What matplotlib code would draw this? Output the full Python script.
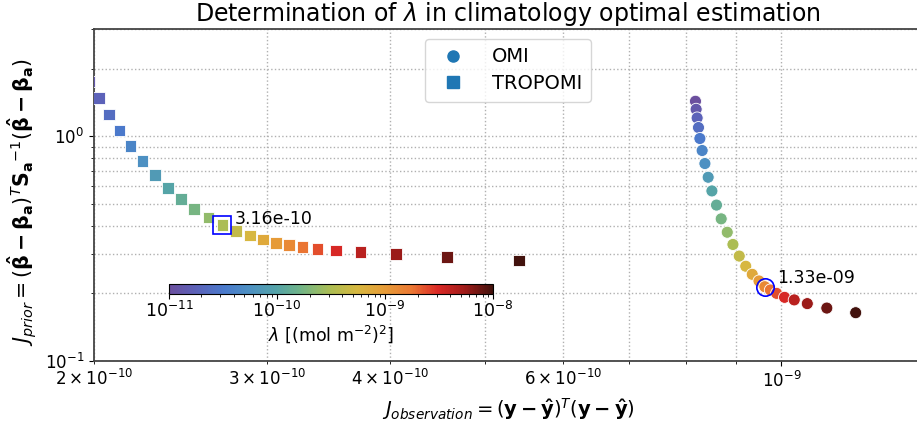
import numpy as np
import matplotlib
matplotlib.use("Agg")
import matplotlib.pyplot as plt
from matplotlib.colors import LogNorm, LinearSegmentedColormap
from matplotlib.lines import Line2D

# regularisation parameter grid
lambdas = [1.00e-11, 1.33e-11, 1.78e-11, 2.37e-11, 3.16e-11, 4.22e-11, 5.62e-11,
           7.50e-11, 1.00e-10, 1.33e-10, 1.78e-10, 2.37e-10, 3.16e-10, 4.22e-10,
           5.62e-10, 7.50e-10, 1.00e-09, 1.33e-09, 1.78e-09, 2.37e-09, 3.16e-09,
           4.22e-09, 5.62e-09, 7.50e-09, 1.00e-08]

# TROPOMI L-curve
trop_jobs = [1.935e-10, 1.977e-10, 2.024e-10, 2.070e-10, 2.123e-10, 2.178e-10,
             2.240e-10, 2.307e-10, 2.377e-10, 2.452e-10, 2.529e-10, 2.614e-10,
             2.701e-10, 2.789e-10, 2.880e-10, 2.971e-10, 3.063e-10, 3.158e-10,
             3.258e-10, 3.374e-10, 3.523e-10, 3.732e-10, 4.054e-10, 4.571e-10,
             5.411e-10]
trop_jprior = [2.068, 1.755, 1.480, 1.248, 1.060, 0.903, 0.774, 0.671, 0.589,
               0.525, 0.474, 0.435, 0.404, 0.379, 0.362, 0.347, 0.336, 0.328,
               0.321, 0.315, 0.310, 0.305, 0.299, 0.290, 0.280]

# OMI L-curve
omi_jobs = [8.178e-10, 8.191e-10, 8.210e-10, 8.236e-10, 8.263e-10, 8.307e-10,
            8.361e-10, 8.425e-10, 8.499e-10, 8.591e-10, 8.686e-10, 8.810e-10,
            8.928e-10, 9.061e-10, 9.200e-10, 9.341e-10, 9.490e-10, 9.620e-10,
            9.745e-10, 9.889e-10, 1.0075e-09, 1.0306e-09, 1.0626e-09, 1.1123e-09,
            1.1901e-09]
omi_jprior = [1.431, 1.318, 1.206, 1.093, 0.977, 0.864, 0.756, 0.657, 0.571,
              0.494, 0.429, 0.374, 0.330, 0.293, 0.264, 0.243, 0.227, 0.214,
              0.207, 0.200, 0.192, 0.187, 0.180, 0.172, 0.164]

trop_best = 12
omi_best = 17

cmap = LinearSegmentedColormap.from_list("lam", [
    (0.00, "#6b4f9e"), (0.08, "#5c61b8"), (0.17, "#4a7acc"), (0.25, "#4d91c2"),
    (0.33, "#54a3a8"), (0.40, "#6eb38a"), (0.45, "#8cba70"), (0.50, "#adbd52"),
    (0.58, "#d6b840"), (0.66, "#e69e38"), (0.75, "#eb7833"), (0.83, "#db2926"),
    (0.91, "#a31c1a"), (1.00, "#42120d")])
norm = LogNorm(vmin=1e-11, vmax=1e-8)

fig = plt.figure(figsize=(9.17, 4.24), dpi=100)
ax = fig.add_axes([94 / 917, 63 / 424, 828 / 917, 332 / 424])

sc = ax.scatter(omi_jobs, omi_jprior, c=lambdas, cmap=cmap, norm=norm, marker='o',
                s=75, edgecolors='w', linewidths=0.6, zorder=3)
ax.scatter(trop_jobs, trop_jprior, c=lambdas, cmap=cmap, norm=norm, marker='s',
           s=70, edgecolors='w', linewidths=0.6, zorder=3)

# chosen lambda
ax.plot(trop_jobs[trop_best], trop_jprior[trop_best], 's', mfc='none', mec='blue',
        ms=12.5, mew=1.2, zorder=4)
ax.annotate(f"{lambdas[trop_best]:.2e}", (trop_jobs[trop_best], trop_jprior[trop_best]),
            xytext=(9, 4), textcoords='offset points', va='center', fontsize=12.5)
ax.plot(omi_jobs[omi_best], omi_jprior[omi_best], 'o', mfc='none', mec='blue',
        ms=12.5, mew=1.2, zorder=4)
ax.annotate(f"{lambdas[omi_best]:.2e}", (omi_jobs[omi_best], omi_jprior[omi_best]),
            xytext=(9, 6), textcoords='offset points', va='center', fontsize=12.5)

ax.set_xscale('log')
ax.set_yscale('log')
ax.set_xlim(2e-10, 1.39e-9)
ax.set_ylim(0.1, 3)
ax.grid(True, which='both', ls=':', color='#b0b0b0', lw=1)
ax.tick_params(which='both', labelsize=12)
for sp in ax.spines.values():
    sp.set_color('#444444')
    sp.set_linewidth(1.3)

ax.set_title(r"Determination of $\lambda$ in climatology optimal estimation", fontsize=17)
ax.set_xlabel(r"$J_{observation} = (\mathbf{y - \hat{y}})^T(\mathbf{y - \hat{y}})$", fontsize=14)
ax.set_ylabel(r"$J_{prior} = (\mathbf{\hat{\beta} - \beta_a})^T\mathbf{S_a}^{-1}(\mathbf{\hat{\beta} - \beta_a})$",
              fontsize=14.8)
ax.yaxis.set_label_coords(-0.067, 0.48)

handles = [Line2D([], [], ls='none', marker='o', color='C0', ms=8, label='OMI'),
           Line2D([], [], ls='none', marker='s', color='C0', ms=8, label='TROPOMI')]
ax.legend(handles=handles, loc='upper center', fontsize=14, labelspacing=0.4,
          borderpad=0.45, handletextpad=1.0)

cax = ax.inset_axes([0.0905, 0.201, 0.3915, 0.031])
cb = fig.colorbar(sc, cax=cax, orientation='horizontal')
cb.ax.tick_params(labelsize=12.5, pad=1.5)
cb.set_label(r"$\lambda$ [(mol m$^{-2}$)$^2$]", fontsize=12.5, labelpad=1.5)

fig.savefig("out.png", dpi=100)
